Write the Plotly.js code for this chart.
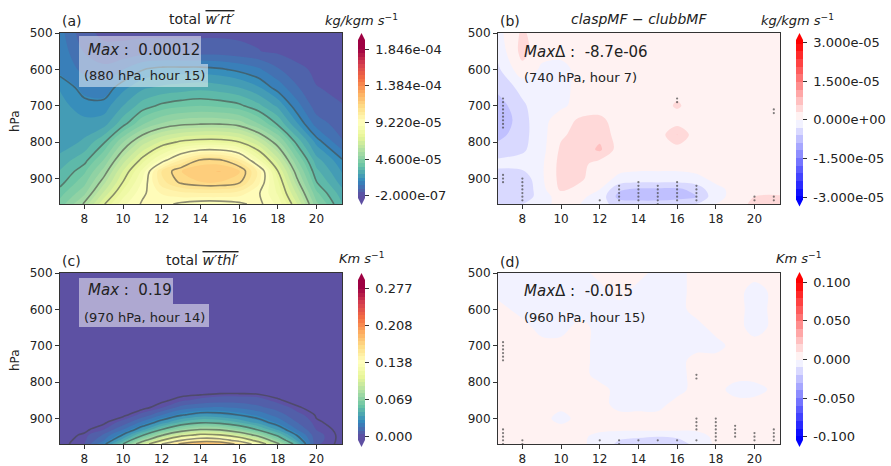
<!DOCTYPE html>
<html>
<head>
<meta charset="utf-8">
<script src="https://cdn.plot.ly/plotly-3.0.1.min.js"></script>
<style>html,body{margin:0;padding:0;background:#fff}</style>
</head>
<body>
<div id="chart" style="width:891px;height:466px"></div>
<script>
// ---- data -------------------------------------------------------------
// local hour of the simulation
const hours = [6.74, 8, 9, 10, 11, 12, 13, 14, 15, 16, 17, 18, 19, 20, 21.32];

// (a) total w'rt' flux, in units of 1e-5 kg/kg m/s
const presA = [500, 550, 600, 650, 700, 750, 800, 850, 880, 910, 940, 970];
const wrtTotal = [
  [1.5, 0.5, 0.3, 0.3, 0.3, 0.3, 0.3, 0.3, 0.3, 0.3, 0.3, 0.2, 0.2, 0.2, 0.2],
  [1.6, 0.8, 0.5, 0.5, 0.6, 0.6, 0.6, 0.6, 0.6, 0.5, 0.4, 0.3, 0.2, 0.2, 0.2],
  [1.6, 1.2, 1.0, 1.3, 1.8, 2.0, 2.0, 2.0, 1.9, 1.7, 1.4, 0.9, 0.5, 0.3, 0.2],
  [2.2, 1.6, 1.5, 2.1, 2.6, 2.8, 2.9, 3.0, 2.9, 2.7, 2.3, 1.6, 0.9, 0.4, 0.3],
  [2.4, 2.0, 2.0, 2.7, 3.4, 3.8, 4.0, 4.1, 4.0, 3.8, 3.3, 2.6, 1.5, 0.6, 0.4],
  [2.6, 2.4, 2.5, 3.5, 4.5, 5.1, 5.4, 5.5, 5.5, 5.3, 4.6, 3.6, 2.3, 1.1, 0.6],
  [2.4, 2.8, 3.6, 5.0, 6.2, 7.0, 7.5, 7.7, 7.7, 7.4, 6.5, 5.2, 3.5, 2.1, 0.9],
  [2.9, 3.5, 4.6, 6.2, 7.6, 8.9, 10.2, 11.2, 11.2, 10.4, 8.4, 6.6, 4.6, 2.9, 1.9],
  [3.2, 4.0, 5.2, 6.9, 8.4, 10.6, 11.5, 11.9, 12.0, 11.6, 10.0, 7.4, 5.2, 3.3, 2.2],
  [3.5, 4.4, 5.8, 7.4, 8.8, 10.4, 11.2, 11.5, 11.5, 11.2, 9.8, 7.9, 5.7, 3.7, 2.5],
  [3.9, 4.9, 6.5, 8.0, 9.1, 9.7, 10.0, 10.1, 10.1, 9.9, 9.3, 8.2, 6.3, 4.2, 2.9],
  [4.3, 5.6, 7.3, 8.6, 9.3, 9.4, 9.1, 8.9, 8.9, 9.1, 9.4, 8.6, 6.9, 4.7, 3.2]
];

// (c) total w'thl' flux, K m/s
const presC = [500, 800, 830, 850, 870, 890, 910, 930, 945, 960, 970];
const wthlTotal = [
  [0, 0, 0, 0, 0, 0, 0, 0, 0, 0, 0, 0, 0, 0, 0],
  [0, 0, 0, 0, 0, 0, 0, 0, 0, 0, 0, 0, 0, 0, 0],
  [0, 0, 0, 0, 0, 0, 0, 0, 0.001, 0.001, 0.0005, 0, 0, 0, 0],
  [0, 0, 0, 0, 0, 0.0005, 0.003, 0.006, 0.008, 0.008, 0.007, 0.002, 0, 0, 0],
  [0, 0, 0, 0, 0, 0.004, 0.014, 0.018, 0.019, 0.017, 0.013, 0.008, 0.002, 0, 0],
  [0, 0, 0, 0, 0.006, 0.018, 0.028, 0.034, 0.033, 0.029, 0.023, 0.015, 0.006, 0.001, 0],
  [0, 0, 0.0005, 0.006, 0.02, 0.034, 0.047, 0.054, 0.052, 0.045, 0.035, 0.023, 0.011, 0.002, 0],
  [0, 0.0005, 0.004, 0.018, 0.036, 0.057, 0.074, 0.084, 0.082, 0.07, 0.055, 0.037, 0.018, 0.004, 0],
  [0, 0.002, 0.012, 0.03, 0.055, 0.082, 0.104, 0.116, 0.113, 0.098, 0.078, 0.053, 0.028, 0.006, 0],
  [0, 0.003, 0.018, 0.044, 0.078, 0.112, 0.14, 0.155, 0.152, 0.132, 0.104, 0.071, 0.038, 0.006, 0],
  [0, 0.004, 0.026, 0.057, 0.098, 0.14, 0.172, 0.19, 0.186, 0.162, 0.128, 0.088, 0.049, 0.005, 0]
];

// (b) claspMF - clubbMF for w'rt', units of 1e-5 kg/kg m/s ; (d) same for w'thl', K m/s
const presBD = [500, 550, 600, 650, 700, 740, 780, 820, 860, 900, 930, 950, 970];
const wrtDiff = [
  [-0.1, 0.35, 0.1, 0.05, 0.05, 0.1, 0.1, 0.1, 0.1, 0.1, 0.1, 0.1, 0.1, 0.15, 0.1],
  [-0.2, 0.4, 0.1, 0.05, 0.05, 0.1, 0.1, 0.1, 0.1, 0.1, 0.1, 0.1, 0.15, 0.2, 0.1],
  [-0.35, 0.2, -0.05, -0.05, 0.05, 0.1, 0.1, 0.1, 0.1, 0.1, 0.1, 0.1, 0.15, 0.25, 0.1],
  [-0.5, -0.2, -0.1, -0.05, 0.05, 0.1, 0.1, 0.1, 0.1, 0.15, 0.1, 0.1, 0.1, 0.2, 0.1],
  [-0.75, -0.35, -0.1, -0.05, 0.1, 0.1, 0.1, 0.1, 0.1, 0.35, 0.1, 0.1, 0.1, 0.1, 0.1],
  [-0.87, -0.4, -0.1, 0.15, 0.35, 0.4, 0.1, 0.1, 0.1, 0.1, 0.1, 0.1, 0.1, 0.1, 0.2],
  [-0.7, -0.4, -0.1, 0.25, 0.4, 0.5, 0.15, 0.1, 0.1, 0.6, 0.1, 0.1, 0.1, 0.1, 0.1],
  [-0.45, -0.35, -0.1, 0.35, 0.4, 0.65, 0.15, 0.1, 0.1, 0.15, 0.1, 0.1, 0.1, 0.1, 0.1],
  [-0.2, -0.15, -0.05, 0.4, 0.4, 0.15, 0.1, 0.1, 0.1, 0.1, 0.1, 0.1, 0.1, 0.1, 0.1],
  [-0.5, -0.5, -0.05, 0.4, 0.35, 0.1, -0.05, -0.1, -0.1, -0.1, -0.05, 0.05, 0.05, 0.05, 0.05],
  [-0.55, -0.55, -0.1, 0.35, 0.2, 0.0, -0.55, -0.65, -0.65, -0.65, -0.5, -0.05, 0.05, 0.1, 0.1],
  [-0.55, -0.55, -0.1, 0.1, 0.05, -0.1, -0.7, -0.75, -0.75, -0.7, -0.6, -0.1, 0.1, 0.3, 0.35],
  [-0.3, -0.3, -0.05, 0.05, 0.0, -0.2, -0.4, -0.45, -0.45, -0.4, -0.3, 0.0, 0.1, 0.4, 0.45]
];
const wthlDiff = [
  [-0.002, -0.002, -0.002, -0.002, -0.002, 0.002, 0.002, 0.002, -0.002, -0.002, 0.002, 0.002, 0.002, 0.002, 0.002],
  [-0.002, -0.002, -0.002, -0.002, -0.002, -0.002, 0.002, -0.002, -0.002, -0.002, 0.002, 0.002, 0.002, -0.002, 0.002],
  [0.002, -0.002, -0.002, -0.002, -0.002, -0.002, -0.002, -0.002, -0.002, -0.002, 0.002, 0.002, 0.002, -0.002, 0.002],
  [0.002, 0.002, -0.002, -0.002, 0.002, -0.002, -0.002, -0.002, -0.002, -0.002, -0.002, 0.002, 0.002, -0.002, 0.002],
  [0.002, 0.002, 0.002, 0.002, 0.002, -0.002, -0.002, -0.002, -0.002, -0.002, -0.002, -0.002, 0.002, 0.002, 0.002],
  [0.002, 0.002, 0.002, 0.002, 0.002, -0.002, -0.002, -0.002, -0.002, -0.002, 0.002, 0.002, 0.002, 0.002, 0.002],
  [0.002, 0.002, 0.002, 0.002, 0.002, -0.002, -0.002, -0.002, -0.002, -0.002, 0.002, 0.002, 0.002, 0.002, 0.002],
  [0.002, 0.002, 0.002, 0.002, 0.002, 0.002, -0.002, -0.002, -0.002, -0.002, 0.002, 0.002, -0.002, -0.002, 0.002],
  [0.002, 0.002, 0.002, 0.002, 0.002, 0.002, -0.002, -0.002, -0.002, 0.002, 0.002, 0.002, 0.002, 0.002, 0.002],
  [0.002, 0.002, 0.002, -0.002, 0.002, 0.002, 0.002, 0.002, 0.002, 0.002, 0.002, 0.002, 0.002, 0.002, 0.002],
  [0.002, 0.002, 0.002, 0.002, 0.002, 0.002, 0.002, 0.002, 0.002, 0.002, 0.002, 0.008, 0.002, 0.002, 0.002],
  [0.002, 0.002, 0.002, 0.002, 0.002, -0.003, -0.008, -0.009, -0.01, -0.009, -0.006, 0.003, 0.002, 0.002, 0.002],
  [0.002, 0.002, 0.002, 0.002, 0.002, -0.004, -0.012, -0.014, -0.015, -0.013, -0.008, 0.002, 0.002, 0.002, 0.002]
];

// points where the difference is significant (stippling)
const sigB_hour = [7,7,7,7,7,7,7,7,7, 7,7,7, 8,8,8,8,8,8,8, 12, 13,13,13,13,13, 14,14,14,14,14,14,
                   15,15,15,15,15,15, 16,16,16,16,16,16, 16,16, 17,17,17,17,17, 20,20, 21,21, 21,21];
const sigB_p    = [680,690,700,710,720,730,740,750,760, 890,900,910, 900,910,920,930,940,950,960, 960,
                   920,930,940,950,960, 910,920,930,940,950,960, 920,930,940,950,960,970,
                   910,920,930,940,950,960, 680,690, 920,930,940,950,960, 950,960, 950,960, 710,720];
const sigD_hour = [7,7,7,7,7,7, 7,7,7,7,7, 8,8, 12, 13,13, 14, 15, 16, 17, 17,17, 17,17,17,17,
                   18,18,18,18,18,18,18, 19,19,19,19, 20,20,20, 21,21,21,21];
const sigD_p    = [690,700,710,720,730,740, 930,940,950,960,970, 960,970, 960, 960,970, 960, 960, 960, 960,
                   780,790, 900,910,920,930, 900,910,920,930,940,950,960, 920,930,940,950, 940,950,960,
                   930,940,950,960];

// axis / colorbar tick labels
const hourTicks = [8, 10, 12, 14, 16, 18, 20];
const presTicks = [500, 600, 700, 800, 900];
const cbTicksA = [-0.02, 4.6, 9.22, 13.84, 18.46];
const cbTextA = ['-2.000e-07', '4.600e-05', '9.220e-05', '1.384e-04', '1.846e-04'];
const cbTicksB = [-3, -1.5, 0, 1.5, 3];
const cbTextB = ['-3.000e-05', '-1.500e-05', '0.000e+00', '1.500e-05', '3.000e-05'];
const cbTicksC = [0, 0.06925, 0.1385, 0.20775, 0.277];
const cbTextC = ['0.000', '0.069', '0.138', '0.208', '0.277'];
const cbTicksD = [-0.1, -0.05, 0, 0.05, 0.1];
const cbTextD = ['-0.100', '-0.050', '0.000', '0.050', '0.100'];

// ---- styling helpers ---------------------------------------------------
const W = 891, H = 466;
const fx = px => px / W;
const fy = py => 1 - py / H;
const FONT = 'DejaVu Sans, Verdana, sans-serif';
const INK = '#222';

const SPECTRAL_R = [[0, '#5e4fa2'], [0.1, '#3288bd'], [0.2, '#66c2a5'], [0.3, '#abdda4'],
  [0.4, '#e6f598'], [0.5, '#ffffbf'], [0.6, '#fee08b'], [0.7, '#fdae61'],
  [0.8, '#f46d43'], [0.9, '#d53e4f'], [1, '#9e0142']];
const BWR = [[0, 'rgb(0,0,255)'], [0.5, 'rgb(255,255,255)'], [1, 'rgb(255,0,0)']];

// colormap normalised on `norm`, shown on the wider colorbar range `disp`
function fitScale(base, disp, norm) {
  const f = v => (v - disp[0]) / (disp[1] - disp[0]);
  const out = [[0, base[0][1]]];
  base.forEach(([t, c]) => out.push([f(norm[0] + t * (norm[1] - norm[0])), c]));
  out.push([1, base[base.length - 1][1]]);
  return out;
}
function bands(disp, n) {
  const cs = (disp[1] - disp[0]) / n;
  return {start: disp[0] + cs / 2, end: disp[1] - cs / 2, size: cs};
}
// small gap between colorbar ticks and their labels
const pad = arr => arr.map(s => '\u00a0' + s);

const panels = [
  {xa: 'x', ya: 'y', y: presA, z: wrtTotal, base: SPECTRAL_R, disp: [-0.31, 19.63], norm: [-0.02, 18.46], nb: 43,
   cbX: 358, cbTop: 40, cbBot: 198, tv: cbTicksA, tt: cbTextA,
   lines: {start: 1.828, end: 18.46, size: 1.848}},
  {xa: 'x2', ya: 'y2', y: presBD, z: wrtDiff, base: BWR, disp: [-3.1, 3.1], norm: [-3, 3], nb: 21,
   cbX: 796, cbTop: 40, cbBot: 199.5, tv: cbTicksB, tt: cbTextB},
  {xa: 'x3', ya: 'y3', y: presC, z: wthlTotal, base: SPECTRAL_R, disp: [-0.0062, 0.2925], norm: [0, 0.277], nb: 43,
   cbX: 358, cbTop: 280, cbBot: 440, tv: cbTicksC, tt: cbTextC,
   lines: {start: 0.0015, end: 0.277, size: 0.0277}},
  {xa: 'x4', ya: 'y4', y: presBD, z: wthlDiff, base: BWR, disp: [-0.104, 0.104], norm: [-0.1, 0.1], nb: 21,
   cbX: 796, cbTop: 279, cbBot: 440, tv: cbTicksD, tt: cbTextD}
];

const traces = [];
const shapes = [];
panels.forEach(p => {
  const lv = bands(p.disp, p.nb);
  traces.push({
    type: 'contour', x: hours, y: p.y, z: p.z, xaxis: p.xa, yaxis: p.ya,
    autocontour: false,
    contours: {coloring: 'fill', start: lv.start, end: lv.end, size: lv.size, showlines: false},
    line: {width: 0, smoothing: 1},
    colorscale: fitScale(p.base, p.disp, p.norm),
    showscale: true, hoverinfo: 'skip',
    colorbar: {
      x: fx(p.cbX), xanchor: 'left', xpad: 0,
      y: fy((p.cbTop + p.cbBot) / 2), yanchor: 'middle', ypad: 0,
      len: p.cbBot - p.cbTop, lenmode: 'pixels',
      thickness: 7, thicknessmode: 'pixels', outlinewidth: 0,
      tickmode: 'array', tickvals: p.tv, ticktext: pad(p.tt),
      ticks: 'outside', ticklen: 4, tickwidth: 1, tickcolor: '#333',
      tickfont: {family: FONT, size: 13, color: INK}
    }
  });
  if (p.lines) {
    traces.push({
      type: 'contour', x: hours, y: p.y, z: p.z, xaxis: p.xa, yaxis: p.ya,
      autocontour: false,
      contours: {coloring: 'none', start: p.lines.start, end: p.lines.end, size: p.lines.size, showlines: true},
      line: {color: 'rgba(70,70,70,0.6)', width: 1.6, smoothing: 1},
      showscale: false, hoverinfo: 'skip'
    });
  }
  // extension triangles at both ends of the colorbar
  const x0 = p.cbX, x1 = p.cbX + 7, xc = p.cbX + 3.5;
  const top = p.base[p.base.length - 1][1], bot = p.base[0][1];
  shapes.push({type: 'path', xref: 'paper', yref: 'paper', line: {width: 0}, fillcolor: top,
    path: `M${fx(x0)},${fy(p.cbTop)} L${fx(x1)},${fy(p.cbTop)} L${fx(xc)},${fy(p.cbTop - 7)} Z`});
  shapes.push({type: 'path', xref: 'paper', yref: 'paper', line: {width: 0}, fillcolor: bot,
    path: `M${fx(x0)},${fy(p.cbBot)} L${fx(x1)},${fy(p.cbBot)} L${fx(xc)},${fy(p.cbBot + 7)} Z`});
});

const dotStyle = {size: 2.2, color: 'rgba(70,70,70,0.7)'};
traces.push({type: 'scatter', mode: 'markers', x: sigB_hour, y: sigB_p, xaxis: 'x2', yaxis: 'y2',
  marker: dotStyle, hoverinfo: 'skip', showlegend: false});
traces.push({type: 'scatter', mode: 'markers', x: sigD_hour, y: sigD_p, xaxis: 'x4', yaxis: 'y4',
  marker: dotStyle, hoverinfo: 'skip', showlegend: false});

// translucent boxes behind the maximum labels
function box(x0, y0, x1, y1) {
  shapes.push({type: 'rect', xref: 'paper', yref: 'paper', x0: fx(x0), x1: fx(x1), y0: fy(y1), y1: fy(y0),
    fillcolor: 'rgba(255,255,255,0.5)', line: {width: 0}, layer: 'above'});
}
box(79, 36, 201, 64); box(79, 64, 208, 87);
box(79, 278, 173, 304); box(79, 304, 209, 327);

function xAxis(d0, d1, anchor) {
  return {domain: [fx(d0), fx(d1)], anchor, range: [6.74, 21.32], tickmode: 'array', tickvals: hourTicks,
    showline: true, mirror: true, linecolor: '#333', linewidth: 1, ticks: 'outside', ticklen: 4,
    tickcolor: '#333', tickfont: {family: FONT, size: 12, color: INK}, showgrid: false, zeroline: false};
}
function yAxis(top, bottom, anchor) {
  return {domain: [fy(bottom), fy(top)], anchor, range: [970, 500], tickmode: 'array', tickvals: presTicks,
    showline: true, mirror: true, linecolor: '#333', linewidth: 1, ticks: 'outside', ticklen: 4,
    tickcolor: '#333', tickfont: {family: FONT, size: 12, color: INK}, showgrid: false, zeroline: false};
}

const annotations = [];
function txt(text, px, py, size, anchor, extra) {
  annotations.push(Object.assign({xref: 'paper', yref: 'paper', x: fx(px), y: fy(py), text,
    showarrow: false, xanchor: anchor || 'center', yanchor: 'middle',
    font: {family: FONT, size, color: INK}}, extra || {}));
}
const OV = s => `<span style="text-decoration:overline">${s}</span>`;

txt('(a)', 60, 21, 14, 'left');
txt('total ' + OV('<i>w′rt′</i>'), 202, 19, 14);
txt('<i>kg/kgm s</i><sup>−1</sup>', 361, 20, 13);
txt('(b)', 498, 21, 14, 'left');
txt('<i>claspMF</i> − <i>clubbMF</i>', 639, 19, 14);
txt('<i>kg/kgm s</i><sup>−1</sup>', 797, 20, 13);
txt('(c)', 60, 261, 14, 'left');
txt('total ' + OV('<i>w′thl′</i>'), 202, 260, 14);
txt('<i>Km s</i><sup>−1</sup>', 362, 258, 13);
txt('(d)', 498, 262, 14, 'left');
txt('<i>Km s</i><sup>−1</sup>', 799, 258, 13);

txt('<i>Max</i>\u00a0:\u00a0\u00a00.00012', 86, 50, 15, 'left');
txt('(880 hPa, hour 15)', 82, 76, 13, 'left');
txt('<i>Max</i>Δ\u00a0:\u00a0\u00a0-8.7e-06', 522, 52, 15, 'left');
txt('(740 hPa, hour 7)', 522, 77, 13, 'left');
txt('<i>Max</i>\u00a0:\u00a0\u00a00.19', 86, 290, 15, 'left');
txt('(970 hPa, hour 14)', 82, 317, 13, 'left');
txt('<i>Max</i>Δ\u00a0:\u00a0\u00a0-0.015', 522, 291, 15, 'left');
txt('(960 hPa, hour 15)', 522, 317, 13, 'left');

txt('hPa', 15, 121, 12, 'center', {textangle: -90});
txt('hPa', 15, 360, 12, 'center', {textangle: -90});

const layout = {
  width: W, height: H, margin: {l: 0, r: 0, t: 0, b: 0},
  paper_bgcolor: '#fff', plot_bgcolor: '#fff', showlegend: false,
  font: {family: FONT, size: 12, color: INK},
  xaxis: xAxis(60, 342, 'y'), yaxis: yAxis(33, 204, 'x'),
  xaxis2: xAxis(498, 780, 'y2'), yaxis2: yAxis(33, 204, 'x2'),
  xaxis3: xAxis(60, 342, 'y3'), yaxis3: yAxis(273, 444, 'x3'),
  xaxis4: xAxis(498, 780, 'y4'), yaxis4: yAxis(273, 444, 'x4'),
  shapes, annotations
};

Plotly.newPlot('chart', traces, layout, {displayModeBar: false, staticPlot: true});
</script>
</body>
</html>
